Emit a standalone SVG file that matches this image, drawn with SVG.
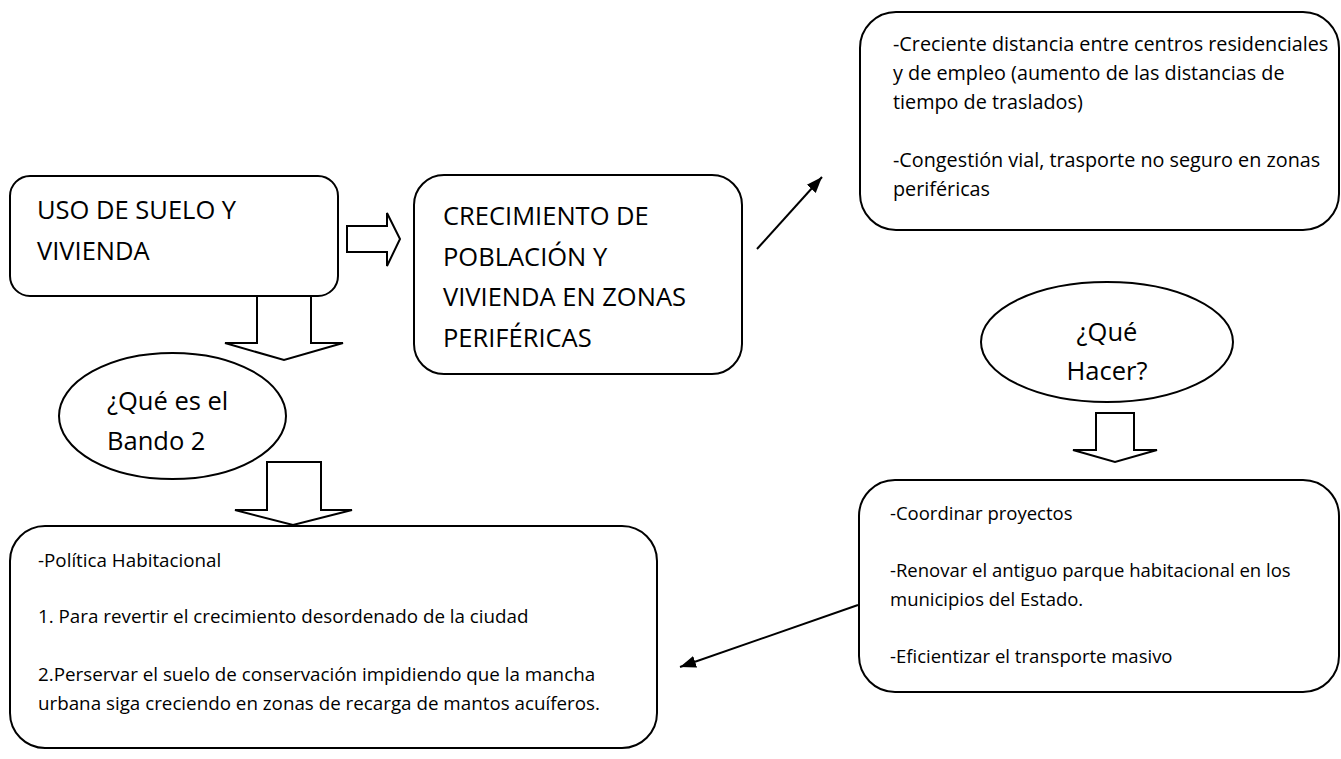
<svg xmlns="http://www.w3.org/2000/svg" width="1341" height="759" viewBox="0 0 1341 759">
<style>
  .box { fill: #fff; stroke: #000; stroke-width: 2; }
  .block { fill: #fff; stroke: #000; stroke-width: 2; stroke-linejoin: miter; }
  .big { font-family: "Open Sans", "Liberation Sans", sans-serif; font-size: 25.5px; fill: #000; }
  .small { font-family: "Open Sans", "Liberation Sans", sans-serif; font-size: 18.5px; fill: #000; }
  .tr { font-size: 19.8px; }
  .ll { font-size: 18.8px; }
  .line { stroke: #000; stroke-width: 2; fill: none; }
</style>
<defs>
  <marker id="ah" markerUnits="userSpaceOnUse" markerWidth="18" markerHeight="14" refX="16" refY="7" orient="auto">
    <path d="M0,1 L16,7 L0,13 Z" fill="#000"/>
  </marker>
</defs>
<rect width="1341" height="759" fill="#fff"/>

<g id="uso-suelo">
  <rect class="box" x="10" y="176" width="328" height="120" rx="20" ry="20"/>
  <text class="big" x="37" y="219">USO DE SUELO Y</text>
  <text class="big" x="37" y="260">VIVIENDA</text>
</g>

<g id="crecimiento">
  <rect class="box" x="414" y="175" width="328" height="199" rx="30" ry="30"/>
  <text class="big" x="443" y="225">CRECIMIENTO DE</text>
  <text class="big" x="443" y="266">POBLACIÓN Y</text>
  <text class="big" x="443" y="306">VIVIENDA EN ZONAS</text>
  <text class="big" x="443" y="347">PERIFÉRICAS</text>
</g>

<g id="consecuencias">
  <rect class="box" x="860" y="12" width="479" height="218" rx="36" ry="36"/>
  <text class="small tr" x="893" y="51">-Creciente distancia entre centros residenciales</text>
  <text class="small tr" x="893" y="80">y de empleo (aumento de las distancias de</text>
  <text class="small tr" x="893" y="109">tiempo de traslados)</text>
  <text class="small tr" x="893" y="167">-Congestión vial, trasporte no seguro en zonas</text>
  <text class="small tr" x="893" y="196">periféricas</text>
</g>

<g id="que-es-bando">
  <ellipse class="box" cx="172.5" cy="416" rx="113.5" ry="63"/>
  <text class="big" x="107" y="410">¿Qué es el</text>
  <text class="big" x="107" y="450">Bando 2</text>
</g>

<g id="que-hacer">
  <ellipse class="box" cx="1107" cy="342" rx="126" ry="60"/>
  <text class="big" x="1107" y="341" text-anchor="middle">¿Qué</text>
  <text class="big" x="1107" y="380" text-anchor="middle">Hacer?</text>
</g>

<g id="politica">
  <rect class="box" x="10" y="526" width="647" height="222" rx="35" ry="35"/>
  <text class="small ll" x="38" y="567">-Política Habitacional</text>
  <text class="small ll" x="38" y="623">1. Para revertir el crecimiento desordenado de la ciudad</text>
  <text class="small ll" x="38" y="681">2.Perservar el suelo de conservación impidiendo que la mancha</text>
  <text class="small ll" x="38" y="710">urbana siga creciendo en zonas de recarga de mantos acuíferos.</text>
</g>

<g id="acciones">
  <rect class="box" x="859" y="480" width="480" height="212" rx="36" ry="36"/>
  <text class="small" x="890" y="520">-Coordinar proyectos</text>
  <text class="small" x="890" y="577">-Renovar el antiguo parque habitacional en los</text>
  <text class="small" x="890" y="606">municipios del Estado.</text>
  <text class="small" x="890" y="663">-Eficientizar el transporte masivo</text>
</g>

<g id="connectors">
  <polygon class="block" points="347,226 387,226 387,213 400,239 387,266 387,252 347,252"/>
  <polygon class="block" points="257,296 311,296 311,343 343,343 284,360 225,343 257,343"/>
  <polygon class="block" points="267,462 321,462 321,510 352,510 293,525 235,510 267,510"/>
  <polygon class="block" points="1096,413 1134,413 1134,450 1157,450 1115,462 1073,450 1096,450"/>
  <line class="line" x1="757" y1="249" x2="822" y2="177" marker-end="url(#ah)"/>
  <line class="line" x1="858" y1="605" x2="680" y2="667" marker-end="url(#ah)"/>
</g>
</svg>
